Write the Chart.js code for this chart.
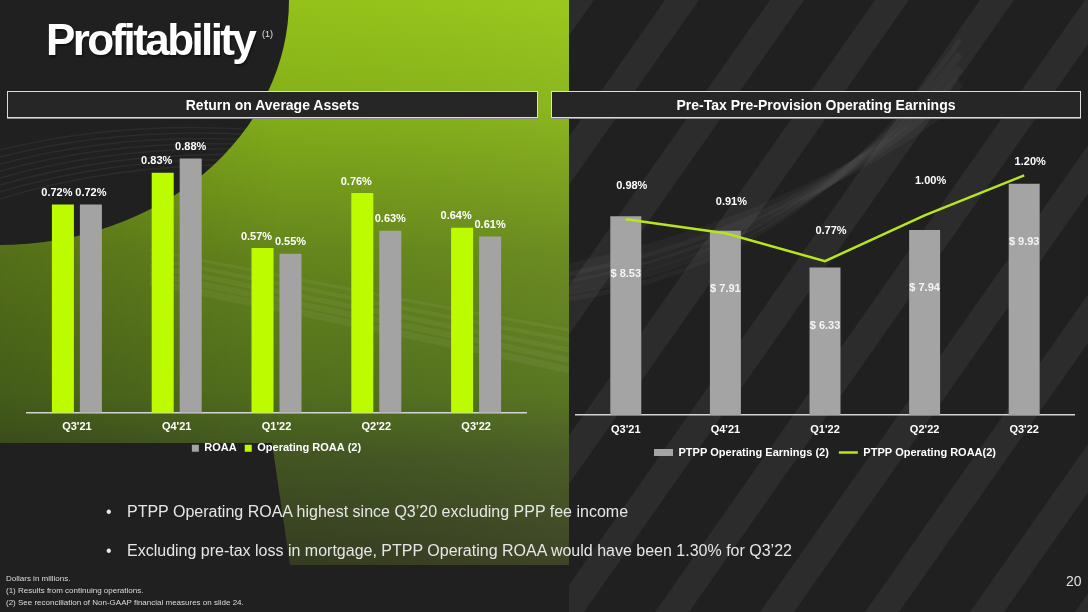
<!DOCTYPE html>
<html>
<head>
<meta charset="utf-8">
<script src="https://cdn.jsdelivr.net/npm/chart.js@4.4.0/dist/chart.umd.min.js"></script>
<style>
  html,body{margin:0;padding:0;background:#222;}
  #stage{position:relative;width:1088px;height:612px;overflow:hidden;font-family:'Liberation Sans',Arial,sans-serif;}
  #bg{position:absolute;left:0;top:0;}
  .title{position:absolute;left:46px;top:14px;color:#fff;font-weight:bold;font-size:44px;letter-spacing:-2.6px;line-height:52px;text-shadow:1px 2px 2px rgba(0,0,0,0.45);white-space:nowrap;}
  .sup{position:absolute;left:262px;top:29px;font-size:9px;color:#e0e0e0;}
  .hdr{position:absolute;top:91px;height:27px;box-sizing:border-box;border:1px solid #dcdcdc;background:#262626;color:#fff;font-weight:bold;font-size:14px;display:flex;align-items:center;justify-content:center;box-shadow:0 1px 0 #8a8a8a;}
  canvas.ch{position:absolute;}
  .bul{position:absolute;left:106px;color:#e6e6e6;font-size:16px;line-height:20px;white-space:nowrap;}
  .bul span{display:inline-block;width:21px;}
  .foot{position:absolute;left:6px;color:#dcdcdc;font-size:8px;line-height:12px;white-space:nowrap;}
  .pg{position:absolute;left:1066px;top:573px;color:#e0e0e0;font-size:14px;}
</style>
</head>
<body>
<div id="stage">
  <canvas id="bg" width="1088" height="612"></canvas>
  <div class="title">Profitability</div>
  <div class="sup">(1)</div>
  <div class="hdr" style="left:7px;width:531px;">Return on Average Assets</div>
  <div class="hdr" style="left:551px;width:530px;">Pre-Tax Pre-Provision Operating Earnings</div>
  <canvas id="left" class="ch" width="550" height="370" style="left:0;top:100px;"></canvas>
  <canvas id="right" class="ch" width="537" height="370" style="left:551px;top:100px;"></canvas>
  <div class="bul" style="top:502px;"><span>•</span>PTPP Operating ROAA highest since Q3’20 excluding PPP fee income</div>
  <div class="bul" style="top:541px;"><span>•</span>Excluding pre-tax loss in mortgage, PTPP Operating ROAA would have been 1.30% for Q3’22</div>
  <div class="foot" style="top:573px;">Dollars in millions.</div>
  <div class="foot" style="top:585px;">(1) Results from continuing operations.</div>
  <div class="foot" style="top:597px;">(2) See reconciliation of Non-GAAP financial measures on slide 24.</div>
  <div class="pg">20</div>
</div>
<script>
// ---------- DATA ----------
const quarters = ["Q3'21", "Q4'21", "Q1'22", "Q2'22", "Q3'22"];
const roaa = [0.72, 0.88, 0.55, 0.63, 0.61];
const operatingRoaa = [0.72, 0.83, 0.57, 0.76, 0.64];
const ptppEarnings = [8.53, 7.91, 6.33, 7.94, 9.93];
const ptppRoaa = [0.98, 0.91, 0.77, 1.00, 1.20];

// ---------- BACKGROUND (decorative) ----------
(function(){
  const c = document.getElementById('bg').getContext('2d');
  c.fillStyle = '#202020'; c.fillRect(0,0,1088,612);
  // right side diagonal stripes
  c.save();
  c.beginPath(); c.rect(569,0,519,612); c.clip();
  c.fillStyle = 'rgba(255,255,255,0.055)';
  for (let k = -500; k < 1400; k += 105) {
    c.beginPath();
    c.moveTo(k,612); c.lineTo(k+34,612); c.lineTo(k+34+430,0); c.lineTo(k+430,0); c.closePath(); c.fill();
  }
  // swoosh arcs
  c.strokeStyle = 'rgba(255,255,255,0.035)';
  for (let i=0;i<5;i++){
    c.lineWidth = 5 + i*2;
    c.beginPath(); c.moveTo(560, 300 - i*7); c.quadraticCurveTo(800, 270 - i*12, 960, 40 + i*14); c.stroke();
  }
  c.restore();
  // green panel
  c.save();
  c.beginPath();
  c.moveTo(289,0); c.lineTo(569,0); c.lineTo(569,565); c.lineTo(290,565); c.lineTo(272,443); c.lineTo(0,443); c.lineTo(0,245);
  c.ellipse(0,0,289,245,0,Math.PI/2,0,true);
  c.closePath();
  const g = c.createLinearGradient(0,0,0,565);
  g.addColorStop(0,'#97c61a'); g.addColorStop(0.2,'#86b21a'); g.addColorStop(0.45,'#66871d');
  g.addColorStop(0.7,'#52701e'); g.addColorStop(0.8,'#445822'); g.addColorStop(1,'#363d22');
  c.fillStyle = g; c.fill();
  c.clip();
  const h = c.createLinearGradient(0,0,569,0);
  h.addColorStop(0,'rgba(0,0,0,0.18)'); h.addColorStop(0.5,'rgba(0,0,0,0.02)'); h.addColorStop(1,'rgba(255,255,160,0.04)');
  c.fillStyle = h; c.fillRect(0,0,569,565);
  c.strokeStyle = 'rgba(255,255,255,0.05)';
  for (let i=0;i<5;i++){
    c.lineWidth = 3 + i;
    c.beginPath(); c.moveTo(150, 250 + i*8); c.quadraticCurveTo(400, 300 + i*8, 569, 330 + i*10); c.stroke();
  }
  c.restore();
  // thin streaks in dark top-left
  c.save();
  c.beginPath(); c.ellipse(0,0,289,245,0,0,Math.PI*2); c.clip();
  c.strokeStyle = 'rgba(255,255,255,0.05)'; c.lineWidth = 1.5;
  for (let i=0;i<8;i++){ c.beginPath(); c.moveTo(0, 150 + i*7); c.quadraticCurveTo(120, 120 + i*6, 260, 130 + i*5); c.stroke(); }
  c.restore();
})();

// ---------- CHARTS ----------
Chart.defaults.font.family = "'Liberation Sans', Arial, sans-serif";
Chart.defaults.color = '#ffffff';

const valueLabels = {
  id: 'valueLabels',
  afterDatasetsDraw(chart) {
    const ctx = chart.ctx;
    ctx.save();
    ctx.font = 'bold 11px "Liberation Sans", Arial, sans-serif';
    ctx.textAlign = 'center';
    ctx.textBaseline = 'middle';
    chart.data.datasets.forEach((ds, di) => {
      const meta = chart.getDatasetMeta(di);
      const lab = ds.lbl; if (!lab) return;
      meta.data.forEach((el, i) => {
        const dy = Array.isArray(lab.dy) ? lab.dy[i] : lab.dy;
        ctx.fillStyle = lab.color || '#ffffff';
        ctx.fillText(lab.fmt(ds.data[i]), el.x + (lab.dx || 0), el.y + dy);
      });
    });
    ctx.restore();
  }
};

const xAxisCommon = {
  grid: { display: false, drawTicks: false },
  border: { display: true, color: '#d4d4d4', width: 1.5 },
  ticks: { color: '#ffffff', font: { size: 11, weight: 'bold' }, padding: 8 },
  afterFit: (s) => { s.height = 22; }
};

new Chart(document.getElementById('left'), {
  type: 'bar',
  data: {
    labels: quarters,
    datasets: [
      { label: 'Operating ROAA (2)', data: operatingRoaa, backgroundColor: '#bdfb00',
        barPercentage: 0.786, categoryPercentage: 0.561,
        lbl: { fmt: v => v.toFixed(2) + '%', dx: -6, dy: -11.5 } },
      { label: 'ROAA', data: roaa, backgroundColor: '#a3a3a3',
        barPercentage: 0.786, categoryPercentage: 0.561,
        lbl: { fmt: v => v.toFixed(2) + '%', dx: 0, dy: -11.5 } }
    ]
  },
  options: {
    responsive: false, animation: false,
    layout: { padding: { left: 27, right: 24, top: 23.7, bottom: 6.3 } },
    scales: {
      x: xAxisCommon,
      y: { display: false, min: 0, max: 1.0 }
    },
    plugins: {
      tooltip: { enabled: false },
      legend: {
        position: 'bottom',
        labels: { color: '#ffffff', font: { size: 11, weight: 'bold' }, boxWidth: 7, boxHeight: 7, padding: 8,
          sort: (a, b) => b.datasetIndex - a.datasetIndex }
      }
    }
  },
  plugins: [valueLabels]
});

new Chart(document.getElementById('right'), {
  type: 'bar',
  data: {
    labels: quarters,
    datasets: [
      { type: 'bar', label: 'PTPP Operating Earnings (2)', data: ptppEarnings, backgroundColor: '#a4a4a4',
        borderWidth: 0, yAxisID: 'y', order: 1,
        barPercentage: 0.311, categoryPercentage: 1,
        pointStyle: 'rect',
        lbl: { fmt: v => '$ ' + v.toFixed(2), dx: 0, dy: 58, color: '#f4f4f4' } },
      { type: 'line', label: 'PTPP Operating ROAA(2)', data: ptppRoaa, borderColor: '#b6e61c', backgroundColor: '#b6e61c',
        borderWidth: 2.5, pointRadius: 0, tension: 0, yAxisID: 'y1', order: 0,
        pointStyle: 'line',
        lbl: { fmt: v => v.toFixed(2) + '%', dx: 6, dy: [-33, -31, -30.6, -34, -13] } }
    ]
  },
  options: {
    responsive: false, animation: false,
    layout: { padding: { left: 25, right: 14, top: 35.4, bottom: 2 } },
    scales: {
      x: xAxisCommon,
      y: { display: false, min: 0, max: 12 },
      y1: { display: false, min: 0, max: 1.4 }
    },
    plugins: {
      tooltip: { enabled: false },
      legend: {
        position: 'bottom',
        labels: { color: '#ffffff', font: { size: 11, weight: 'bold' }, usePointStyle: true, pointStyleWidth: 19, boxHeight: 7, padding: 10,
          sort: (a, b) => a.datasetIndex - b.datasetIndex }
      }
    }
  },
  plugins: [valueLabels]
});
</script>
</body>
</html>
